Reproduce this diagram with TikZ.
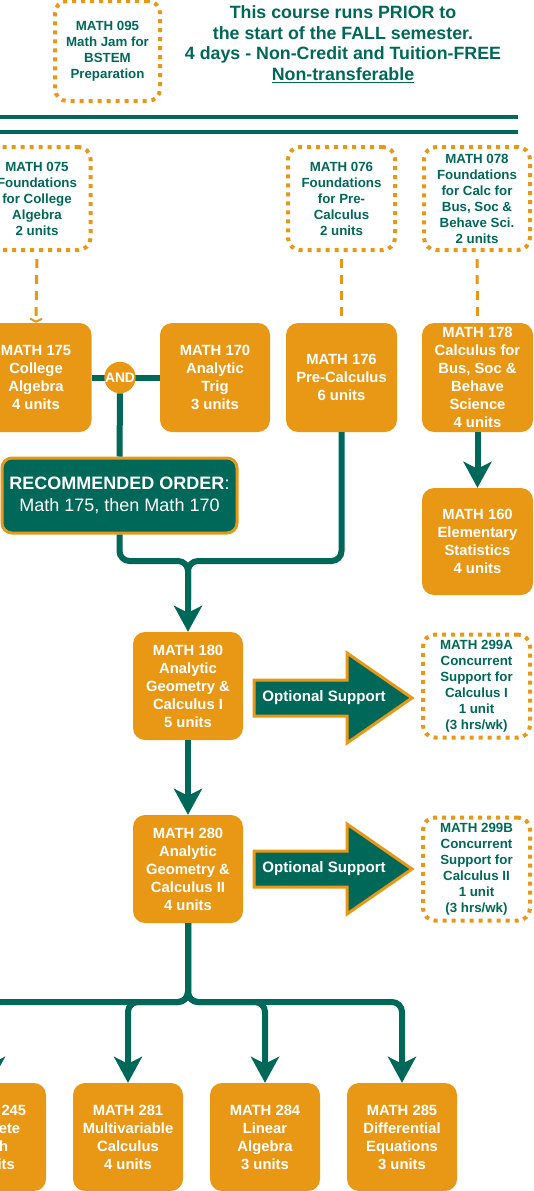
\documentclass[tikz,border=0pt]{standalone}
\usepackage{fontspec}
\setmainfont{Liberation Sans}
\usetikzlibrary{arrows.meta}
\definecolor{dkgreen}{RGB}{0,104,88}
\definecolor{orng}{RGB}{233,152,22}
\begin{document}
\begin{tikzpicture}[x=1pt,y=-1pt,
  coursebox/.style={fill=orng, rounded corners=12pt, minimum width=111pt, minimum height=109pt, inner sep=0pt, align=center, text=white, font=\fontsize{14.8}{18}\selectfont\bfseries},
  prepbox/.style={draw=orng, line width=4pt, dash pattern=on 4pt off 5pt, rounded corners=12pt, minimum width=107pt, minimum height=103pt, inner sep=0pt, align=center, text=dkgreen, font=\fontsize{13.3}{16}\selectfont\bfseries},
  conn/.style={draw=dkgreen, line width=6pt},
  bigtip/.style={-{Stealth[length=26pt,width=28pt,inset=7pt]}},
  dashconn/.style={draw=orng, line width=3pt, dash pattern=on 9pt off 7pt},
  optarrow/.style={fill=dkgreen, draw=orng, line width=3pt, line join=miter},
  optlabel/.style={text=white, font=\fontsize{15.1}{18}\selectfont\bfseries, inner sep=0pt},
  rule/.style={draw=dkgreen, line width=4pt}
]
\useasboundingbox (0,0) rectangle (533,1191);
\clip (0,0) rectangle (533,1191);

% header
\node[prepbox, minimum width=105pt, minimum height=100pt] (m095) at (107.5,51) {MATH 095\\Math Jam for\\BSTEM\\Preparation};
\node[text=dkgreen, align=center, inner sep=0pt, font=\fontsize{17.8}{20.7}\selectfont\bfseries] (hdr) at (343,44) {This course runs PRIOR to\\the start of the FALL semester.\\4 days - Non-Credit and Tuition-FREE\\\underline{Non-transferable}};
\coordinate (r1a) at (0,117); \coordinate (r1b) at (518,117);
\coordinate (r2a) at (0,132); \coordinate (r2b) at (518,132);
\draw[rule] (r1a) -- (r1b);
\draw[rule] (r2a) -- (r2b);

% foundation boxes
\node[prepbox] (m075) at (37,198.5) {MATH 075\\Foundations\\for College\\Algebra\\2 units};
\node[prepbox] (m076) at (341.5,198.5) {MATH 076\\Foundations\\for Pre-\\Calculus\\2 units};
\node[prepbox, minimum width=106pt] (m078) at (477,198.5) {MATH 078\\Foundations\\for Calc for\\Bus, Soc \&\\Behave Sci.\\2 units};

% course boxes
\node[coursebox] (m175) at (36,377.5) {MATH 175\\College\\Algebra\\4 units};
\node[coursebox, minimum width=110pt] (m170) at (215,377.5) {MATH 170\\Analytic\\Trig\\3 units};
\node[coursebox] (m176) at (341.5,377.5) {MATH 176\\Pre-Calculus\\6 units};
\node[coursebox] (m178) at (477.5,377.5) {MATH 178\\Calculus for\\Bus, Soc \&\\Behave\\Science\\4 units};
\node[coursebox, minimum height=107pt] (m160) at (477.5,541.5) {MATH 160\\Elementary\\Statistics\\4 units};
\node[coursebox, minimum width=110pt, minimum height=108pt] (m180) at (188,686) {MATH 180\\Analytic\\Geometry \&\\Calculus I\\5 units};
\node[coursebox, minimum width=110pt, minimum height=108pt] (m280) at (188,869) {MATH 280\\Analytic\\Geometry \&\\Calculus II\\4 units};
\node[coursebox, minimum width=110pt, minimum height=108pt] (m245) at (-9,1137) {MATH 245\\Discrete\\Math\\3 units};
\node[coursebox, minimum width=110pt, minimum height=108pt] (m281) at (128,1137) {MATH 281\\Multivariable\\Calculus\\4 units};
\node[coursebox, minimum width=110pt, minimum height=108pt] (m284) at (265,1137) {MATH 284\\Linear\\Algebra\\3 units};
\node[coursebox, minimum width=110pt, minimum height=108pt] (m285) at (402,1137) {MATH 285\\Differential\\Equations\\3 units};

% support boxes
\node[prepbox] (m299a) at (476.5,686) {MATH 299A\\Concurrent\\Support for\\Calculus I\\1 unit\\(3 hrs/wk)};
\node[prepbox] (m299b) at (476.5,869) {MATH 299B\\Concurrent\\Support for\\Calculus II\\1 unit\\(3 hrs/wk)};

% recommended order
\node[draw=orng, line width=3pt, fill=dkgreen, rounded corners=10pt, minimum width=235pt, minimum height=75pt, inner sep=0pt, text=white, align=center, font=\fontsize{18}{22.7}\selectfont] (rec) at (119.5,495.5) {\textbf{RECOMMENDED ORDER}:\\Math 175, then Math 170};

% dashed prerequisites
\draw[dashconn, shorten <=7pt, -{Straight Barb[length=3pt,width=12pt,line width=2pt]}] (m075.south) -- (m175.north);
\draw[dashconn, shorten <=7pt] (m076.south) -- (m176.north);
\draw[dashconn, shorten <=7pt] (m078.south) -- (m178.north);

% AND junction
\draw[conn] (m175.east) -- (m170.west);
\node[circle, fill=orng, minimum size=30pt, inner sep=0pt, text=white, font=\fontsize{13.8}{14}\selectfont\bfseries] (and) at (120,377.5) {AND};
\draw[conn] (and.south) -- (rec.north);

% merge into 180
\draw[conn, rounded corners=10pt] (m176.south) -- (341.5,561) -- (188,561) -- (188,600);
\draw[conn, rounded corners=10pt, bigtip] (rec.south) -- (119.5,561) -- (188,561) -- (m180.north);
\draw[conn, bigtip] (m178.south) -- (m160.north);
\draw[conn, bigtip] (m180.south) -- (m280.north);

% distribution from 280
\draw[conn, rounded corners=10pt, bigtip] (m280.south) -- (188,1002) -- (-9,1002) -- (m245.north);
\draw[conn, rounded corners=10pt, bigtip] (m280.south) -- (188,1002) -- (128,1002) -- (m281.north);
\draw[conn, rounded corners=10pt, bigtip] (m280.south) -- (188,1002) -- (265,1002) -- (m284.north);
\draw[conn, rounded corners=10pt, bigtip] (m280.south) -- (188,1002) -- (402,1002) -- (m285.north);

% optional support arrows
\draw[optarrow] (254,680) -- (347,680) -- (347,653) -- (412,698) -- (347,743) -- (347,716) -- (254,716) -- cycle;
\node[optlabel] (opt1) at (324,698) {Optional Support};
\draw[optarrow] (254,851) -- (347,851) -- (347,824) -- (412,869) -- (347,914) -- (347,887) -- (254,887) -- cycle;
\node[optlabel] (opt2) at (324,869) {Optional Support};
\end{tikzpicture}
\end{document}
